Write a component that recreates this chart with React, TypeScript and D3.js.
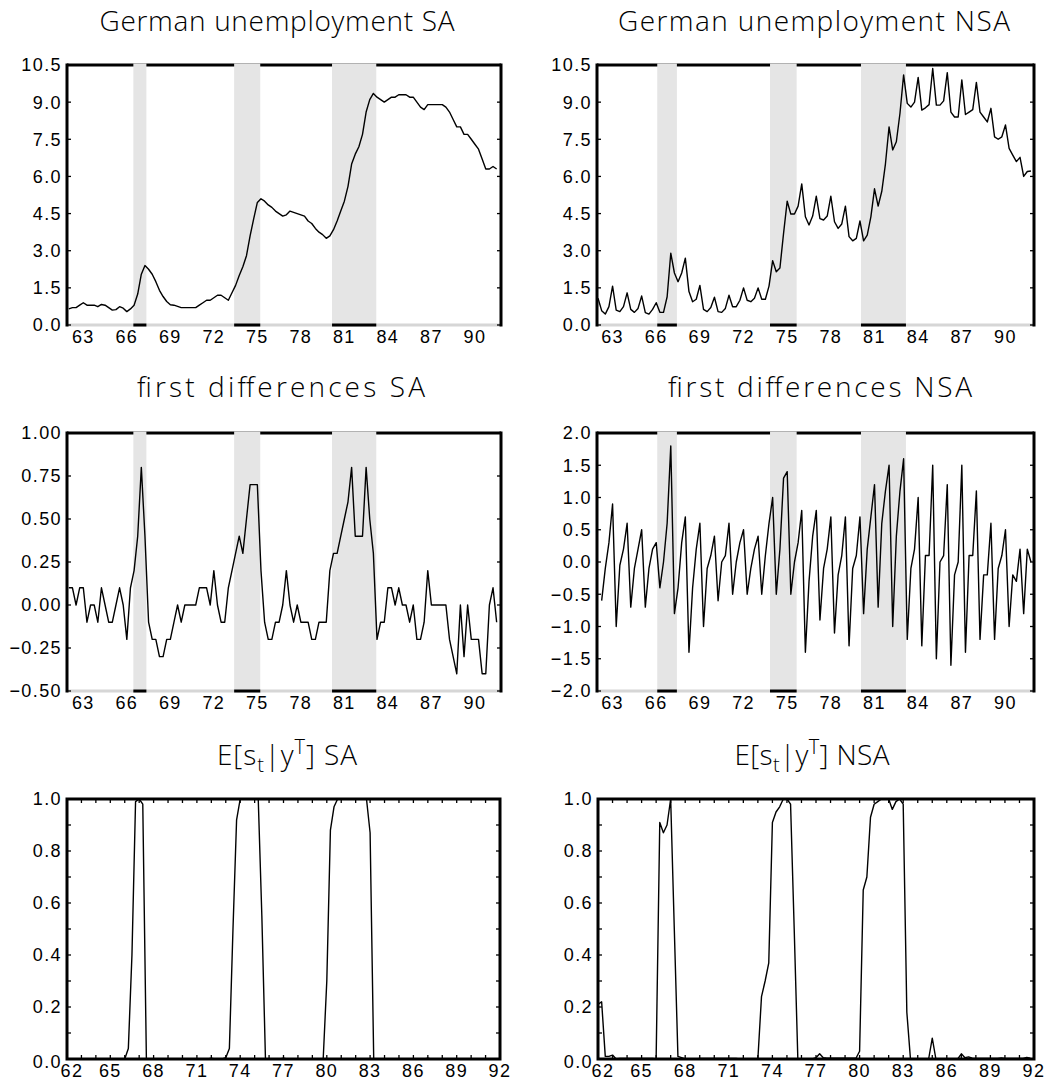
import React from "react";
import * as d3 from "d3";

// Quarterly German unemployment rate, seasonally adjusted, 1962Q1 - 1991Q3
const unempSA = [
  0.65, 0.7, 0.7, 0.8,
  0.9, 0.8, 0.8, 0.8,
  0.74, 0.83, 0.8, 0.7,
  0.6, 0.62, 0.74, 0.68,
  0.54, 0.65, 0.8, 1.25,
  2.05, 2.4, 2.25, 2.05,
  1.75, 1.4, 1.15, 0.95,
  0.82, 0.8, 0.75, 0.7,
  0.7, 0.7, 0.7, 0.7,
  0.8, 0.9, 1.0, 1.0,
  1.1, 1.2, 1.2, 1.1,
  1.0, 1.3, 1.6, 2.0,
  2.35, 2.8, 3.6, 4.3,
  4.95, 5.1, 5.0, 4.85,
  4.75, 4.6, 4.5, 4.4,
  4.45, 4.6, 4.55, 4.5,
  4.45, 4.4, 4.2, 4.1,
  3.9, 3.75, 3.65, 3.5,
  3.6, 3.85, 4.2, 4.6,
  5.0, 5.6, 6.5, 6.9,
  7.2, 7.7, 8.6, 9.1,
  9.35, 9.2, 9.1, 9.0,
  9.1, 9.2, 9.2, 9.3,
  9.3, 9.3, 9.2, 9.2,
  9.0, 8.8, 8.7, 8.9,
  8.9, 8.9, 8.9, 8.9,
  8.8, 8.6, 8.3, 8.0,
  8.0, 7.7, 7.7, 7.5,
  7.3, 7.1, 6.7, 6.3,
  6.3, 6.4, 6.3,
];

// Not seasonally adjusted, 1962Q1 - 1991Q4
const unempNSA = [
  1.08, 0.58, 0.44, 0.74,
  1.57, 0.6, 0.54, 0.74,
  1.3, 0.63, 0.51, 0.67,
  1.17, 0.5, 0.44, 0.63,
  0.9, 0.51, 0.51, 1.14,
  2.9, 2.1, 1.75, 2.1,
  2.7, 1.35, 0.94, 1.04,
  1.6, 0.63, 0.54, 0.71,
  1.12, 0.54, 0.51, 0.67,
  1.2, 0.74, 0.74, 1.0,
  1.5, 1.0, 0.94, 1.08,
  1.5, 1.04, 1.04, 1.57,
  2.6, 2.15, 2.3, 3.7,
  5.0, 4.48, 4.48, 4.8,
  5.7, 4.37, 4.04, 4.4,
  5.2, 4.3, 4.24, 4.4,
  5.2, 4.17, 3.9, 4.08,
  4.8, 3.57, 3.4, 3.5,
  4.2, 3.4, 3.63, 4.37,
  5.5, 4.8, 5.4, 6.5,
  8.0, 7.07, 7.4, 8.55,
  10.1, 8.95, 8.8, 9.0,
  10.0, 8.68, 8.77, 8.9,
  10.36, 8.88, 8.88, 9.05,
  10.19, 8.6, 8.4, 8.4,
  9.9, 8.5, 8.6, 8.7,
  9.8, 8.6, 8.4, 8.2,
  8.75, 7.6, 7.5, 7.6,
  8.08, 7.13, 6.86, 6.6,
  6.77, 6.0, 6.2, 6.22,
];

// First differences, SA, plotted from 1962Q1
const diffSA = [
  0.1, 0.1, 0.0, 0.1, 0.1, -0.1, 0.0, 0.0, -0.1, 0.1,
  0.0, -0.1, -0.1, 0.0, 0.1, 0.0, -0.2, 0.1, 0.2, 0.4,
  0.8, 0.4, -0.1, -0.2, -0.2, -0.3, -0.3, -0.2, -0.2, -0.1,
  0.0, -0.1, 0.0, 0.0, 0.0, 0.0, 0.1, 0.1, 0.1, 0.0,
  0.2, 0.0, -0.1, -0.1, 0.1, 0.2, 0.3, 0.4, 0.3, 0.5,
  0.7, 0.7, 0.7, 0.2, -0.1, -0.2, -0.2, -0.1, -0.1, 0.0,
  0.2, 0.0, -0.1, 0.0, -0.1, -0.1, -0.1, -0.2, -0.2, -0.1,
  -0.1, -0.1, 0.2, 0.3, 0.3, 0.4, 0.5, 0.6, 0.8, 0.4,
  0.4, 0.4, 0.8, 0.5, 0.3, -0.2, -0.1, -0.1, 0.1, 0.1,
  0.0, 0.1, 0.0, 0.0, -0.1, 0.0, -0.2, -0.2, -0.1, 0.2,
  0.0, 0.0, 0.0, 0.0, 0.0, -0.2, -0.3, -0.4, 0.0, -0.3,
  0.0, -0.2, -0.2, -0.2, -0.4, -0.4, 0.0, 0.1, -0.1,
];

// First differences, NSA, 1962Q2 - 1991Q4
const diffNSA = [
  -0.6, -0.1, 0.3, 0.9, -1.0, -0.05, 0.2, 0.6, -0.7, -0.1,
  0.2, 0.5, -0.7, -0.1, 0.2, 0.3, -0.4, 0.0, 0.6, 1.8,
  -0.8, -0.4, 0.3, 0.7, -1.4, -0.4, 0.2, 0.6, -1.0, -0.1,
  0.1, 0.4, -0.6, 0.0, 0.1, 0.6, -0.5, 0.0, 0.3, 0.5,
  -0.5, -0.1, 0.2, 0.4, -0.5, 0.1, 0.6, 1.0, -0.5, 0.2,
  1.3, 1.4, -0.5, 0.0, 0.3, 0.8, -1.4, -0.3, 0.4, 0.8,
  -0.9, -0.1, 0.2, 0.7, -1.1, -0.2, 0.1, 0.7, -1.3, -0.1,
  0.1, 0.7, -0.8, 0.2, 0.7, 1.2, -0.7, 0.6, 1.1, 1.5,
  -1.0, 0.4, 1.1, 1.6, -1.2, -0.1, 0.2, 1.0, -1.3, 0.1,
  0.1, 1.5, -1.5, 0.0, 0.1, 1.2, -1.6, -0.2, 0.0, 1.5,
  -1.4, 0.1, 0.1, 1.1, -1.2, -0.2, -0.2, 0.6, -1.2, -0.1,
  0.1, 0.5, -1.0, -0.2, -0.3, 0.2, -0.8, 0.2, 0.0,
];

// Smoothed recession probabilities E[s_t | y^T], 1962Q1 - 1991Q4 (one row per four years)
const probSA = [
  0, 0, 0, 0, 0, 0, 0, 0, 0, 0, 0, 0, 0, 0, 0, 0,
  0, 0.04, 0.4, 0.99, 1.0, 0.98, 0, 0, 0, 0, 0, 0, 0, 0, 0, 0,
  0, 0, 0, 0, 0, 0, 0, 0, 0.003, 0, 0, 0, 0.005, 0.04, 0.5, 0.92,
  1.0, 1.0, 1.0, 1.0, 1.0, 1.0, 0.55, 0, 0, 0, 0, 0, 0.003, 0, 0, 0,
  0, 0, 0, 0, 0, 0, 0, 0, 0.3, 0.88, 0.97, 1.0, 1.0, 1.0, 1.0, 1.0,
  1.0, 1.0, 1.0, 1.0, 0.87, 0, 0, 0, 0, 0, 0, 0, 0, 0, 0, 0,
  0, 0, 0, 0, 0.003, 0, 0, 0, 0, 0, 0, 0, 0, 0, 0, 0,
  0, 0, 0, 0, 0, 0, 0, 0,
];

const probNSA = [
  0.21, 0.22, 0.01, 0.01, 0.015, 0, 0.002, 0.002, 0.002, 0.002, 0.002, 0.002, 0.002, 0.002, 0.002, 0.002,
  0, 0.91, 0.87, 0.9, 1.0, 0.5, 0.01, 0.005, 0, 0, 0, 0, 0.002, 0.002, 0.002, 0.002,
  0.002, 0.002, 0.002, 0.002, 0.002, 0.002, 0.002, 0, 0, 0, 0, 0, 0, 0.24, 0.3, 0.37,
  0.91, 0.95, 0.97, 1.0, 1.0, 0.98, 0.5, 0, 0, 0, 0, 0, 0.005, 0.02, 0.005, 0.003,
  0.003, 0.003, 0.003, 0.003, 0.003, 0.003, 0.003, 0.003, 0.03, 0.65, 0.7, 0.93, 0.98, 0.99, 1.0, 1.0,
  1.0, 0.96, 0.99, 1.0, 0.98, 0.18, 0, 0, 0, 0, 0, 0, 0.08, 0, 0, 0,
  0, 0, 0, 0, 0.02, 0.005, 0.008, 0.003, 0.002, 0.002, 0.002, 0.002, 0.002, 0.002, 0.002, 0.004,
  0.002, 0.002, 0.002, 0.002, 0.002, 0.002, 0.006, 0.003,
];

// Shaded recession periods (years)
const recessionsSA: [number, number][] = [
  [66.45, 67.35],
  [73.4, 75.2],
  [80.15, 83.2],
];
const recessionsNSA: [number, number][] = [
  [66.07, 67.42],
  [73.82, 75.65],
  [80.07, 83.16],
];

const yearTicks = [63, 66, 69, 72, 75, 78, 81, 84, 87, 90];
const yearTicksProb = [62, 65, 68, 71, 74, 77, 80, 83, 86, 89, 92];
const levelTicks = [0, 1.5, 3, 4.5, 6, 7.5, 9, 10.5];
const diffSATicks = [-0.5, -0.25, 0, 0.25, 0.5, 0.75, 1];
const diffNSATicks = [-2, -1.5, -1, -0.5, 0, 0.5, 1, 1.5, 2];
const probTicks = [0, 0.2, 0.4, 0.6, 0.8, 1];

const TICK_FONT = "'Liberation Sans', Arial, Helvetica, sans-serif";
const TITLE_FONT = "'Open Sans', 'DejaVu Sans', sans-serif";

type PanelProps = {
  x0: number;
  x1: number;
  y0: number;
  y1: number;
  xDomain: [number, number];
  yDomain: [number, number];
  values: number[];
  start: number;
  shades?: [number, number][];
  xTicks: number[];
  yTicks: number[];
  yFormat: (v: number) => string;
  minor?: boolean;
};

function Panel(p: PanelProps) {
  const xs = d3.scaleLinear().domain(p.xDomain).range([p.x0, p.x1]);
  const ys = d3.scaleLinear().domain(p.yDomain).range([p.y1, p.y0]);
  const line = d3
    .line<number>()
    .x((_, i) => xs(p.start + i / 4))
    .y((d) => ys(d));
  const fw = 3;
  const shades = p.shades || [];

  const minorX = p.minor ? d3.range(p.xDomain[0], p.xDomain[1] + 0.001, 1) : [];
  const minorY = p.minor ? d3.range(0, 1.0001, 0.1) : [];

  return (
    <g>
      {p.minor ? (
        <>
          <path d={line(p.values) || ""} fill="none" stroke="#000" strokeWidth={1.4} strokeLinejoin="round" />
          <rect x={p.x0} y={p.y0} width={p.x1 - p.x0} height={p.y1 - p.y0} fill="none" stroke="#000" strokeWidth={fw} />
          {minorX.map((t) => (
            <g key={"mx" + t}>
              <line x1={xs(t)} x2={xs(t)} y1={p.y1} y2={p.y1 - 4} stroke="#000" strokeWidth={1.3} />
              <line x1={xs(t)} x2={xs(t)} y1={p.y0} y2={p.y0 + 4} stroke="#000" strokeWidth={1.3} />
            </g>
          ))}
          {minorY.map((t) => (
            <g key={"my" + t}>
              <line x1={p.x0} x2={p.x0 + 4} y1={ys(t)} y2={ys(t)} stroke="#000" strokeWidth={1.3} />
              <line x1={p.x1} x2={p.x1 - 4} y1={ys(t)} y2={ys(t)} stroke="#000" strokeWidth={1.3} />
            </g>
          ))}
        </>
      ) : (
        <>
          <line x1={p.x0} x2={p.x1} y1={p.y0} y2={p.y0} stroke="#000" strokeWidth={fw} />
          <line x1={p.x0} x2={p.x1} y1={p.y1} y2={p.y1} stroke="#d6d6d6" strokeWidth={fw} />
          {shades.map(([a, b], i) => (
            <rect
              key={"s" + i}
              x={xs(a)}
              y={p.y0 - fw / 2}
              width={xs(b) - xs(a)}
              height={p.y1 - p.y0}
              fill="#e5e5e5"
            />
          ))}
          {shades.map(([a, b], i) => (
            <line key={"sb" + i} x1={xs(a)} x2={xs(b)} y1={p.y1} y2={p.y1} stroke="#000" strokeWidth={fw} />
          ))}
          <line x1={p.x0} x2={p.x0} y1={p.y0 - fw / 2} y2={p.y1 + fw / 2} stroke="#000" strokeWidth={fw} />
          <line x1={p.x1} x2={p.x1} y1={p.y0 - fw / 2} y2={p.y1 + fw / 2} stroke="#000" strokeWidth={fw} />
          <path d={line(p.values) || ""} fill="none" stroke="#000" strokeWidth={1.4} strokeLinejoin="round" />
          {p.yTicks.map((t) => (
            <g key={"yt" + t}>
              <line x1={p.x0} x2={p.x0 + 4} y1={ys(t)} y2={ys(t)} stroke="#000" strokeWidth={1.3} />
              <line x1={p.x1} x2={p.x1 - 4} y1={ys(t)} y2={ys(t)} stroke="#000" strokeWidth={1.3} />
            </g>
          ))}
        </>
      )}
      {p.yTicks.map((t) => (
        <text
          key={"yl" + t}
          x={p.x0 - 5}
          y={ys(t) + (p.minor && t === 0 ? 3 : 0)}
          dy="0.36em"
          textAnchor="end"
          fontFamily={TICK_FONT}
          fontSize={18}
          letterSpacing={1.4}
        >
          {p.yFormat(t)}
        </text>
      ))}
      {p.xTicks.map((t) => (
        <text
          key={"xl" + t}
          x={xs(t) + (p.minor && t === p.xDomain[0] ? 5 : 0)}
          y={p.y1 + 18}
          textAnchor="middle"
          fontFamily={TICK_FONT}
          fontSize={18}
          letterSpacing={1.4}
        >
          {String(t)}
        </text>
      ))}
    </g>
  );
}

function Title({ x, y, w, children }: { x: number; y: number; w: number; children: React.ReactNode }) {
  return (
    <text
      x={x}
      y={y}
      textAnchor="middle"
      fontFamily={TITLE_FONT}
      fontWeight={300}
      fontSize={28}
      textLength={w}
      lengthAdjust="spacing"
    >
      {children}
    </text>
  );
}

function ProbTitle({ x, y, w, label }: { x: number; y: number; w: number; label: string }) {
  return (
    <text
      x={x}
      y={y}
      textAnchor="middle"
      fontFamily={TITLE_FONT}
      fontWeight={300}
      fontSize={28}
      textLength={w}
      lengthAdjust="spacing"
    >
      E[s
      <tspan dy={7} fontSize={20}>t</tspan>
      <tspan dy={-7}>|y</tspan>
      <tspan dy={-11} fontSize={20}>T</tspan>
      <tspan dy={11}>{"] " + label}</tspan>
    </text>
  );
}

export default function App() {
  const f1 = d3.format(".1f");
  const f2 = d3.format(".2f");
  const saDom: [number, number] = [61.875, 91.8];
  const nsaDom: [number, number] = [61.93, 91.96];

  return (
    <svg
      width={1050}
      height={1083}
      viewBox="0 0 1050 1083"
      style={{ position: "absolute", left: 0, top: 0, background: "#fff" }}
    >
      <rect x={0} y={0} width={1050} height={1083} fill="#fff" />

      <Title x={277} y={31} w={355}>German unemployment SA</Title>
      <Title x={814} y={31} w={392}>German unemployment NSA</Title>
      <Title x={281} y={397} w={288}>first differences SA</Title>
      <Title x={820} y={397} w={304}>first differences NSA</Title>
      <ProbTitle x={287} y={765} w={140} label="SA" />
      <ProbTitle x={812} y={765} w={155} label="NSA" />

      <Panel
        x0={67} x1={501} y0={65} y1={325}
        xDomain={saDom} yDomain={[0, 10.5]}
        values={unempSA} start={62.0}
        shades={recessionsSA}
        xTicks={yearTicks} yTicks={levelTicks} yFormat={f1}
      />
      <Panel
        x0={597} x1={1034} y0={65} y1={325}
        xDomain={nsaDom} yDomain={[0, 10.5]}
        values={unempNSA} start={62.0}
        shades={recessionsNSA}
        xTicks={yearTicks} yTicks={levelTicks} yFormat={f1}
      />
      <Panel
        x0={67} x1={501} y0={433} y1={691}
        xDomain={saDom} yDomain={[-0.5, 1]}
        values={diffSA} start={62.0}
        shades={recessionsSA}
        xTicks={yearTicks} yTicks={diffSATicks} yFormat={f2}
      />
      <Panel
        x0={597} x1={1034} y0={433} y1={691}
        xDomain={nsaDom} yDomain={[-2, 2]}
        values={diffNSA} start={62.25}
        shades={recessionsNSA}
        xTicks={yearTicks} yTicks={diffNSATicks} yFormat={f1}
      />
      <Panel
        x0={67} x1={500} y0={799} y1={1059}
        xDomain={[62, 92]} yDomain={[0, 1]}
        values={probSA} start={62.0}
        xTicks={yearTicksProb} yTicks={probTicks} yFormat={f1}
        minor
      />
      <Panel
        x0={598} x1={1034} y0={799} y1={1059}
        xDomain={[62, 92]} yDomain={[0, 1]}
        values={probNSA} start={62.0}
        xTicks={yearTicksProb} yTicks={probTicks} yFormat={f1}
        minor
      />
    </svg>
  );
}
